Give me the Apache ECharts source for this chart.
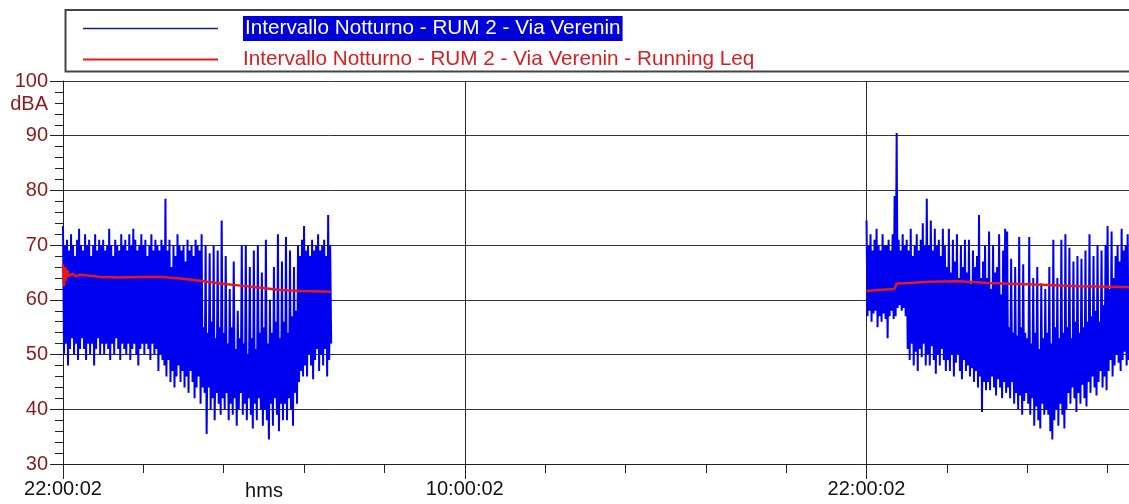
<!DOCTYPE html>
<html>
<head>
<meta charset="utf-8">
<script src="https://cdn.jsdelivr.net/npm/echarts@6/dist/echarts.min.js"></script>
<style>
html,body{margin:0;padding:0;background:#fff;}
#chart{width:1129px;height:504px;}
</style>
</head>
<body>
<div id="chart"></div>
<script>
// ---- data (hours after 22:00:02) ----
var BLUE_NAME = 'Intervallo Notturno - RUM 2 - Via Verenin';
var RED_NAME = 'Intervallo Notturno - RUM 2 - Via Verenin - Running Leq';
var xTickLabels = ['22:00:02', '10:00:02', '22:00:02'];
var xAxisName = 'hms';
var yAxisName = 'dBA';

var STEP = 0.06;          // sample spacing (h)
var seg1Start = 0;
var seg2Start = 24;

var seg1Hi = [
  73.5, 70, 71, 69, 72, 70, 68, 71, 73, 70,
  69, 72, 70, 71, 68, 70, 72, 69, 71, 70,
  71, 69, 70, 73, 70, 68, 71, 70, 69, 72,
  70, 71, 69, 72, 70, 73, 71, 69, 70, 72,
  70, 71, 68, 70, 72, 69, 71, 70, 69, 71,
  70, 78.5, 69, 71, 66, 70, 68, 72, 70, 69,
  70, 67, 71, 69, 70, 68, 71, 70, 69, 72,
  55, 70, 54, 68.5, 56, 70, 53, 69, 55, 74.5,
  54, 68, 52, 62, 55, 67, 51, 58, 53, 70,
  52, 70, 50, 66, 53, 69, 51, 70, 54, 65,
  55, 71, 52, 60, 54, 66, 56, 72, 53, 67,
  56, 71.5, 54, 69, 57, 66, 58, 70, 68, 71,
  73.5, 69, 70, 68, 71, 69, 70, 72, 69, 70, 71, 68, 75.5, 70
];
var seg1Lo = [
  50, 52, 48, 51, 53, 50, 52, 49, 51, 53,
  51, 49, 52, 50, 52, 48, 51, 53, 50, 52,
  50, 52, 51, 49, 52, 50, 53, 51, 49, 52,
  51, 50, 52, 49, 51, 52, 50, 48, 51, 52,
  50, 52, 51, 49, 52, 50, 51, 47, 50, 49,
  48, 46, 49, 45, 47, 44, 46, 48, 45, 47,
  44, 46, 43, 47, 45, 42, 44, 46, 41, 44,
  43, 35.5, 44, 40, 42, 38, 43, 41, 39, 42,
  40, 43, 38, 41, 39, 42, 37, 40, 43, 39,
  41, 38, 42, 39, 36.5, 41, 38, 42, 40, 37,
  40, 38, 34.5, 41, 37, 42, 39, 36, 41, 38,
  41, 38, 42, 40, 37, 43, 41, 45, 47, 46,
  48, 46, 50, 48, 45.5, 49, 51, 47, 50, 48, 51, 46, 49, 52
];
var seg2Hi = [
  74.5, 70, 72, 69, 71, 73, 70, 69, 72, 70,
  70, 71, 69, 72, 79, 90.5, 71, 69, 72, 70,
  71, 69, 73, 68, 70, 72, 69, 71, 74, 70,
  78.5, 70, 74.5, 69, 73, 70, 71, 68, 73, 70,
  66, 73, 65, 71, 67, 72, 64, 70, 66, 71,
  65, 71, 63, 69, 66, 68, 75.5, 64, 67, 70,
  64, 72.5, 62, 70, 65, 66, 72, 61, 69, 73,
  72.5, 55, 67.5, 54, 66, 53.5, 71.5, 55, 66.5, 54,
  53, 71.5, 52, 64, 54, 66, 51, 63, 53, 62,
  54, 66, 52, 71, 55, 64, 53, 71, 54, 72,
  55, 69.5, 53, 67, 56, 68, 54, 67.5, 55, 69,
  56, 72, 57, 68, 58, 70, 56, 69, 59, 70,
  73.5, 62, 72.5, 64, 68, 70, 67, 73, 69, 70, 72
];
var seg2Lo = [
  57, 58, 56, 57.5, 58, 55, 57, 56, 57.5, 56.5,
  53, 57, 58, 56.5, 57, 58.5, 59, 58, 58.5, 57,
  51, 49, 52, 48, 50.5, 47, 51, 49.5, 52, 48,
  50, 48, 51.5, 49, 46.5, 50, 48, 51, 49, 47,
  49, 47, 50, 46, 48.5, 50, 47, 45.5, 49, 47,
  48, 46, 47.5, 45, 47, 44, 46, 39.5, 45, 43.5,
  45, 43.5, 46, 44, 42.5, 45.5, 44, 42, 45, 43,
  44, 42, 45, 41, 43, 40, 42.5, 39, 41.5, 43,
  41, 39, 42, 37, 40.5, 38, 36.5, 41, 39, 40,
  39, 36, 34.5, 38, 40, 37, 41, 39, 36.5, 40,
  43, 41, 44, 42, 39.5, 43, 41, 44.5, 42, 40.5,
  45, 43, 46, 44, 42.5, 45, 47, 44, 46, 43.5,
  47, 49, 46, 48, 50, 48.5, 47, 49, 50.5, 48, 49
];

var leqT1 = [0, 0.03, 0.06, 0.09, 0.12, 0.18, 0.27, 0.39, 0.51, 0.8, 1.1, 1.7, 2.3, 2.9, 3.5, 4.1, 4.7, 5.3, 5.9, 6.5, 7.1, 8.0];
var leqV1 = [66.5, 62.5, 66, 63.5, 65.5, 64.3, 64.8, 64.3, 64.6, 64.4, 64.2, 64.1, 64.2, 64.2, 63.9, 63.5, 63.0, 62.6, 62.2, 61.8, 61.6, 61.5];
var leqT2 = [24, 24.36, 24.84, 24.9, 25.26, 25.86, 26.74, 27.64, 28.53, 29.43, 30.32, 31.22, 31.84];
var leqV2 = [61.6, 61.8, 62.0, 63.0, 63.1, 63.3, 63.4, 63.1, 62.9, 62.7, 62.5, 62.4, 62.3];

// ---- build series data ----
function zig(start, hi, lo) {
  var out = [];
  for (var i = 0; i < hi.length; i++) {
    out.push([start + i * STEP, hi[i]]);
    out.push([start + i * STEP + STEP / 2, lo[i]]);
  }
  return out;
}
var blueData = zig(seg1Start, seg1Hi, seg1Lo).concat([[16, '-']]).concat(zig(seg2Start, seg2Hi, seg2Lo));
var redData = [];
leqT1.forEach(function (t, i) { redData.push([t, leqV1[i]]); });
redData.push([16, '-']);
leqT2.forEach(function (t, i) { redData.push([t, leqV2[i]]); });

var FONT = 'Liberation Sans, Arial, sans-serif';
var X_MAX = 31.84;
var LEGEND_FS = 20.7;

var chart = echarts.init(document.getElementById('chart'), null, {renderer: 'canvas'});
chart.setOption({
  animation: false,
  backgroundColor: '#ffffff',
  textStyle: {fontFamily: FONT},
  grid: {left: 63, right: -2, top: 81, bottom: 40, containLabel: false},
  legend: {
    orient: 'vertical', left: 78, top: 11,
    itemWidth: 135, itemHeight: 22, itemGap: 8,
    selectedMode: false,
    itemStyle: {borderWidth: 0},
    data: [
      {name: BLUE_NAME, icon: 'path://M0,0L135,0L135,1.4L0,1.4Z', itemStyle: {color: '#1c1c96'}},
      {name: RED_NAME, icon: 'path://M0,0L135,0L135,2.2L0,2.2Z'}
    ],
    formatter: function (name) {
      return name === BLUE_NAME ? '{s| }{a|' + name + '}' : '{s| }{b|' + name + '}';
    },
    textStyle: {
      fontSize: LEGEND_FS, fontFamily: FONT,
      rich: {
        s: {width: 20, fontSize: LEGEND_FS},
        a: {color: '#ffffff', backgroundColor: '#0000d8', padding: [2, 2, 2, 2], fontSize: LEGEND_FS, fontFamily: FONT},
        b: {color: '#d42020', fontSize: LEGEND_FS, fontFamily: FONT}
      }
    }
  },
  xAxis: [
    {
      type: 'value', min: 0, max: X_MAX, interval: 2.4, position: 'bottom',
      axisLine: {show: true, lineStyle: {color: '#222', width: 1}},
      axisTick: {show: true, length: 9, lineStyle: {color: '#222'}},
      axisLabel: {show: false},
      splitLine: {show: false}
    },
    {
      type: 'value', min: 0, max: X_MAX, interval: 12, position: 'bottom',
      axisLine: {show: false},
      axisTick: {show: true, length: 15, lineStyle: {color: '#222'}},
      axisLabel: {
        show: true, margin: 15, fontSize: 20, color: '#111', fontFamily: FONT, showMaxLabel: false,
        formatter: function (v) {
          var k = Math.round(v / 12);
          return Math.abs(v - k * 12) < 1e-6 ? (xTickLabels[k] || '') : '';
        }
      },
      splitLine: {show: true, lineStyle: {color: '#2a2a2a', width: 1}}
    }
  ],
  yAxis: {
    type: 'value', min: 30, max: 100, interval: 10,
    axisLine: {show: true, lineStyle: {color: '#222'}},
    axisTick: {show: true, length: 13, lineStyle: {color: '#222'}},
    minorTick: {show: true, splitNumber: 5, length: 8, lineStyle: {color: '#222'}},
    axisLabel: {color: '#8b1a1a', fontSize: 20, margin: 15, fontFamily: FONT},
    splitLine: {show: true, lineStyle: {color: '#333', width: 1}}
  },
  graphic: [
    {type: 'rect', left: 63, top: 7.5, silent: true,
     shape: {width: 1080, height: 61.5},
     style: {fill: 'none', stroke: '#444', lineWidth: 2}},
    {type: 'text', x: 48, y: 104, silent: true,
     style: {text: yAxisName, fill: '#8b1a1a', font: '20px ' + FONT, textAlign: 'right', textVerticalAlign: 'middle'}},
    {type: 'text', x: 264, y: 491, silent: true,
     style: {text: xAxisName, fill: '#111', font: '20px ' + FONT, textAlign: 'center', textVerticalAlign: 'middle'}}
  ],
  series: [
    {name: BLUE_NAME, type: 'line', xAxisIndex: 0, data: blueData, symbol: 'none', showSymbol: false,
     connectNulls: false, lineStyle: {width: 2, color: '#0000f0', join: 'miter'}, itemStyle: {color: '#0000f0'}, z: 2, silent: true},
    {name: RED_NAME, type: 'line', xAxisIndex: 0, data: redData, symbol: 'none', showSymbol: false,
     connectNulls: false, lineStyle: {width: 2.5, color: '#e61919'}, itemStyle: {color: '#e61919'}, z: 3, silent: true}
  ]
});
</script>
</body>
</html>
